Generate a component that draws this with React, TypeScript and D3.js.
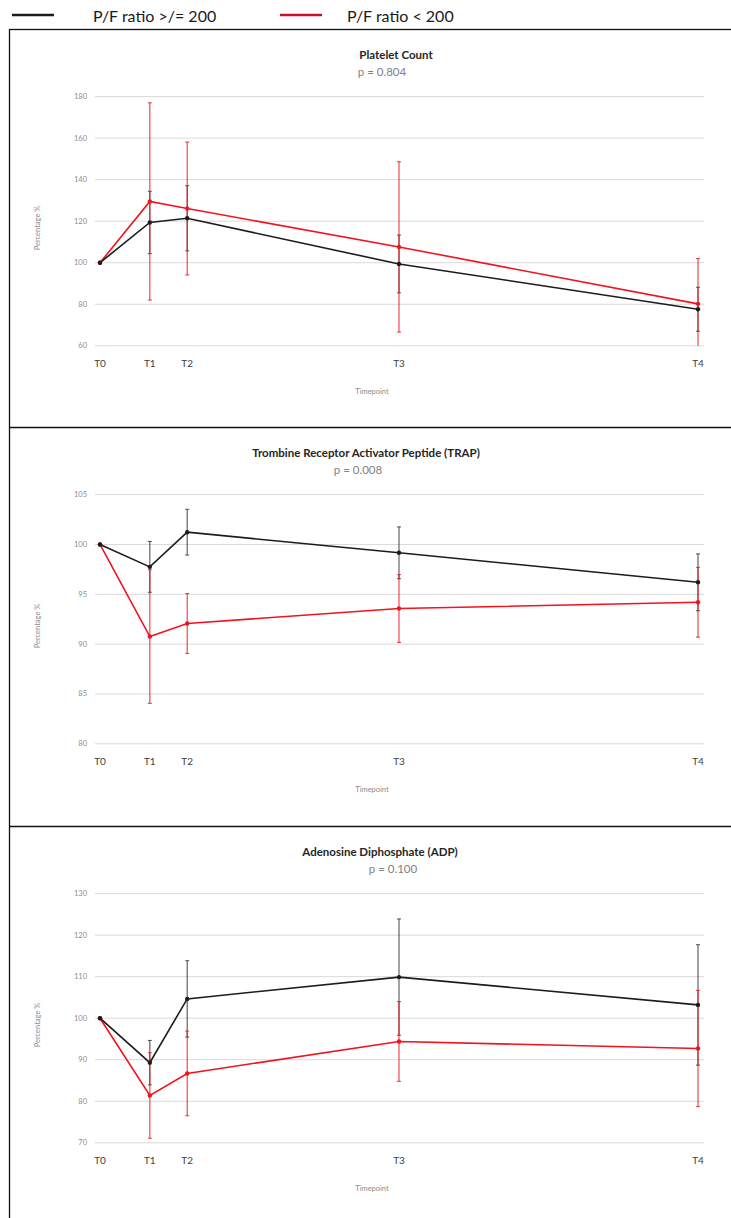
import React, { useRef, useEffect } from "react";
import * as d3 from "d3";

// timepoints and their position on the time axis (hours)
const timepoints = ["T0", "T1", "T2", "T3", "T4"];
const timeHours = [0, 2, 3.5, 12, 24];

const seriesNames = ["P/F ratio >/= 200", "P/F ratio < 200"];

// Platelet count
const plateletHigh = [100, 119.4, 121.4, 99.4, 77.6];
const plateletHighErr = [0, 15.0, 15.7, 13.9, 10.6];
const plateletLow = [100, 129.5, 126.1, 107.6, 80.2];
const plateletLowErr = [0, 47.5, 32.0, 41.0, 21.8];
const plateletTicks = [60, 80, 100, 120, 140, 160, 180];

// TRAP
const trapHigh = [100, 97.75, 101.23, 99.16, 96.2];
const trapHighErr = [0, 2.55, 2.3, 2.6, 2.85];
const trapLow = [100, 90.76, 92.07, 93.57, 94.2];
const trapLowErr = [0, 6.7, 3.0, 3.4, 3.5];
const trapTicks = [80, 85, 90, 95, 100, 105];

// ADP
const adpHigh = [100, 89.3, 104.65, 109.9, 103.2];
const adpHighErr = [0, 5.35, 9.2, 14.0, 14.5];
const adpLow = [100, 81.4, 86.7, 94.4, 92.7];
const adpLowErr = [0, 10.3, 10.2, 9.6, 14.0];
const adpTicks = [70, 80, 90, 100, 110, 120, 130];

const panels = [
  { title: "Platelet Count", p: "p = 0.804", titleX: 396, pX: 382, ticks: plateletTicks,
    high: plateletHigh, highErr: plateletHighErr, low: plateletLow, lowErr: plateletLowErr },
  { title: "Trombine Receptor Activator Peptide (TRAP)", p: "p = 0.008", titleX: 366, pX: 358, ticks: trapTicks,
    high: trapHigh, highErr: trapHighErr, low: trapLow, lowErr: trapLowErr },
  { title: "Adenosine Diphosphate (ADP)", p: "p = 0.100", titleX: 380, pX: 393, ticks: adpTicks,
    high: adpHigh, highErr: adpHighErr, low: adpLow, lowErr: adpLowErr },
];

const BLACK = "#1c1c1c";
const RED = "#f0141e";
const FONT = "Lato, 'Open Sans', sans-serif";

function App() {
  const svgRef = useRef<SVGSVGElement>(null);

  useEffect(() => {
    const svg = d3.select(svgRef.current);
    svg.selectAll("*").remove();

    // legend
    const legend = svg.append("g");
    [BLACK, "#c8102e"].forEach((c, i) => {
      const lx = i === 0 ? 12 : 280;
      legend.append("line").attr("x1", lx).attr("x2", lx + 42).attr("y1", 15).attr("y2", 15)
        .attr("stroke", c).attr("stroke-width", 2.6);
      legend.append("text").attr("x", i === 0 ? 93 : 347).attr("y", 15)
        .attr("dominant-baseline", "central")
        .attr("font-family", FONT).attr("font-size", 16).attr("fill", "#1a1a1a")
        .text(seriesNames[i]);
    });

    const panelTops = [29, 427, 826];
    const x = d3.scaleLinear().domain([0, 24]).range([100, 698]);

    // outer frame and dividers
    svg.append("rect").attr("x", 9.5).attr("y", 29.5).attr("width", 740).attr("height", 1200)
      .attr("fill", "none").attr("stroke", "#111").attr("stroke-width", 1.3);
    panelTops.slice(1).forEach((t) => {
      svg.append("line").attr("x1", 9.5).attr("x2", 740).attr("y1", t + 0.5).attr("y2", t + 0.5)
        .attr("stroke", "#111").attr("stroke-width", 1.3);
    });

    panels.forEach((pn, pi) => {
      const top = panelTops[pi];
      const g = svg.append("g");
      const ymin = pn.ticks[0];
      const ymax = pn.ticks[pn.ticks.length - 1];
      const y = d3.scaleLinear().domain([ymin, ymax]).range([top + 316.8, top + 67.6]);

      g.append("text").attr("x", pn.titleX).attr("y", top + 30).attr("text-anchor", "middle")
        .attr("font-family", FONT).attr("font-weight", "bold").attr("font-size", 11.5)
        .attr("fill", "#262626").text(pn.title);
      g.append("text").attr("x", pn.pX).attr("y", top + 47).attr("text-anchor", "middle")
        .attr("font-family", FONT).attr("font-size", 11.5).attr("fill", "#7f7f7f").text(pn.p);

      // grid + y tick labels
      g.selectAll(".grid").data(pn.ticks).enter().append("line")
        .attr("x1", 95).attr("x2", 704)
        .attr("y1", (d) => y(d)).attr("y2", (d) => y(d))
        .attr("stroke", "#d9d9d9").attr("stroke-width", 1);
      g.selectAll(".ytl").data(pn.ticks).enter().append("text")
        .attr("x", 87).attr("y", (d) => y(d)).attr("text-anchor", "end")
        .attr("dominant-baseline", "central")
        .attr("font-family", FONT).attr("font-size", 7.5).attr("fill", "#8c8c8c")
        .text((d) => d);

      // x tick labels
      g.selectAll(".xtl").data(timepoints).enter().append("text")
        .attr("x", (d, i) => x(timeHours[i])).attr("y", top + 334).attr("text-anchor", "middle")
        .attr("dominant-baseline", "central")
        .attr("font-family", FONT).attr("font-size", 10).attr("fill", "#404040")
        .text((d) => d);

      g.append("text").attr("x", 372).attr("y", top + 362).attr("text-anchor", "middle")
        .attr("dominant-baseline", "central")
        .attr("font-family", FONT).attr("font-size", 7.5).attr("fill", "#8c8c8c").text("Timepoint");

      g.append("text").attr("transform", `translate(37, ${top + 199}) rotate(-90)`)
        .attr("text-anchor", "middle").attr("dominant-baseline", "central")
        .attr("font-family", FONT).attr("font-size", 7.5).attr("fill", "#8c8c8c").text("Percentage %");

      const series = [
        { vals: pn.high, err: pn.highErr, color: BLACK, barOpacity: 0.75 },
        { vals: pn.low, err: pn.lowErr, color: RED, barOpacity: 0.85 },
      ];

      // error bars
      series.forEach((s) => {
        s.vals.forEach((v, i) => {
          if (!s.err[i]) return;
          const cx = x(timeHours[i]);
          const hi = Math.min(v + s.err[i], ymax);
          const lo = Math.max(v - s.err[i], ymin);
          g.append("line").attr("x1", cx).attr("x2", cx).attr("y1", y(hi)).attr("y2", y(lo))
            .attr("stroke", s.color).attr("stroke-width", 1.1).attr("opacity", s.barOpacity);
          [[hi, v + s.err[i] <= ymax], [lo, v - s.err[i] >= ymin]].forEach(([e, show]) => {
            if (!show) return;
            g.append("line").attr("x1", cx - 2).attr("x2", cx + 2)
              .attr("y1", y(e as number)).attr("y2", y(e as number))
              .attr("stroke", s.color).attr("stroke-width", 1).attr("opacity", s.barOpacity);
          });
        });
      });

      // lines and markers, red first so black sits on top at T0
      [series[1], series[0]].forEach((s) => {
        const line = d3.line<number>().x((d, i) => x(timeHours[i])).y((d) => y(d));
        g.append("path").attr("d", line(s.vals)).attr("fill", "none")
          .attr("stroke", s.color).attr("stroke-width", 1.6);
        g.selectAll(null).data(s.vals).enter().append("circle")
          .attr("cx", (d, i) => x(timeHours[i])).attr("cy", (d) => y(d)).attr("r", 2.2)
          .attr("fill", s.color);
      });
    });
  }, []);

  return (
    <svg ref={svgRef} width={731} height={1218}
      style={{ position: "absolute", left: 0, top: 0, background: "#fff" }} />
  );
}

export default App;
